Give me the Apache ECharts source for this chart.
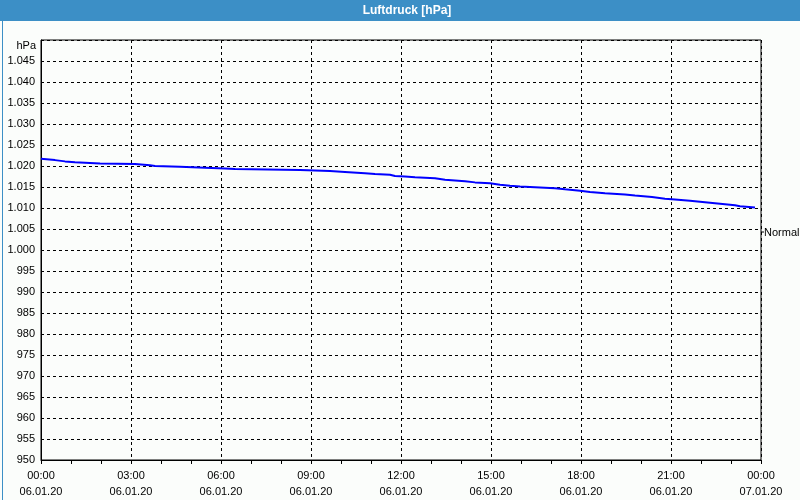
<!DOCTYPE html>
<html>
<head>
<meta charset="utf-8">
<script src="https://cdn.jsdelivr.net/npm/echarts@6/dist/echarts.min.js"></script>
<style>
html,body{margin:0;padding:0;background:#fbfdfb;}
#chart{width:800px;height:500px;}
</style>
</head>
<body>
<div id="chart"></div>
<script>
// time in minutes since 06.01.20 00:00
var times = [0, 3, 28, 48, 68, 118, 188, 218, 228, 278, 328, 368, 388, 518, 578, 608, 648, 668, 698, 708, 728, 748, 788, 808, 848, 868, 898, 918, 938, 958, 998, 1028, 1048, 1078, 1098, 1128, 1168, 1188, 1222, 1248, 1268, 1298, 1328, 1358, 1388, 1398, 1428];
var values = [1021.7, 1021.4, 1021.1, 1020.9, 1020.6, 1020.5, 1020.2, 1020.0, 1019.8, 1019.6, 1019.4, 1019.3, 1019.05, 1018.8, 1018.6, 1018.3, 1018.1, 1017.9, 1017.6, 1017.5, 1017.3, 1017.1, 1016.7, 1016.35, 1016.1, 1015.9, 1015.55, 1015.3, 1015.1, 1014.9, 1014.7, 1014.45, 1014.1, 1013.8, 1013.5, 1013.2, 1012.95, 1012.6, 1012.2, 1012.0, 1011.7, 1011.35, 1011.0, 1010.65, 1010.4, 1010.1, 1010.1];
var xTickTimes = ['00:00','03:00','06:00','09:00','12:00','15:00','18:00','21:00','00:00'];
var xTickDates = ['06.01.20','06.01.20','06.01.20','06.01.20','06.01.20','06.01.20','06.01.20','06.01.20','07.01.20'];
var titleText = 'Luftdruck [hPa]';
var unitText = 'hPa';
var seriesName = 'Normal';

var pts = times.map(function(t,i){return [t, values[i]];});
var font = 'Liberation Sans';
var chart = echarts.init(document.getElementById('chart'), null, {renderer:'canvas'});
chart.setOption({
  backgroundColor: '#fbfdfb',
  animation: false,
  grid: {left: 41, top: 40, right: 39, bottom: 40, show: true, borderColor: '#000', borderWidth: 1, backgroundColor: 'transparent'},
  xAxis: {
    type: 'value', min: 0, max: 1440, interval: 180,
    axisLine: {show: true, lineStyle: {color: '#000', width: 1}},
    axisTick: {show: true, length: 4, lineStyle: {color: '#000'}},
    minorTick: {show: true, splitNumber: 3, length: 4, lineStyle: {color: '#000'}},
    splitLine: {show: true, lineStyle: {color: '#000', type: [3,3], width: 1}},
    axisLabel: {
      fontFamily: font, fontSize: 11, color: '#000', margin: 8, lineHeight: 16,
      formatter: function(v){ var i = Math.round(v/180); return xTickTimes[i] + '\n' + xTickDates[i]; }
    }
  },
  yAxis: {
    type: 'value', min: 950, max: 1050, interval: 5,
    axisLine: {show: true, lineStyle: {color: '#000', width: 1}},
    axisTick: {show: false},
    splitLine: {show: true, lineStyle: {color: '#000', type: [3,3], width: 1}},
    axisLabel: {
      fontFamily: font, fontSize: 11, color: '#000', margin: 6, verticalAlign: 'middle',
      formatter: function(v){
        if (v >= 1050) return '';
        if (v >= 1000) { var s = String(v); return s.charAt(0) + '.' + s.slice(1); }
        return String(v);
      }
    }
  },
  series: [{
    name: seriesName, type: 'line', step: 'end', data: pts, showSymbol: false,
    lineStyle: {color: '#0000ff', width: 2}, z: 5
  }],
  graphic: [
    {type: 'rect', left: 0, top: 0, shape: {width: 800, height: 21}, style: {fill: '#3c8fc6'}, silent: true},
    {type: 'rect', left: 0, top: 0, shape: {x: 0.5, y: 0.5, width: 799, height: 499}, style: {fill: 'none', stroke: '#3c8fc6', lineWidth: 1}, silent: true},
    {type: 'text', x: 407, y: 11, style: {text: titleText, fill: '#ffffff', font: 'bold 12px "Liberation Sans"', align: 'center', verticalAlign: 'middle'}},
    {type: 'text', x: 36, y: 46, style: {text: unitText, fill: '#000', font: '11px "Liberation Sans"', align: 'right', verticalAlign: 'middle'}},
    {type: 'line', shape: {x1: 761, y1: 232, x2: 764, y2: 232}, style: {stroke: '#000', lineWidth: 1}},
    {type: 'text', x: 764, y: 233, style: {text: seriesName, fill: '#000', font: '11px "Liberation Sans"', align: 'left', verticalAlign: 'middle'}}
  ]
});
</script>
</body>
</html>
